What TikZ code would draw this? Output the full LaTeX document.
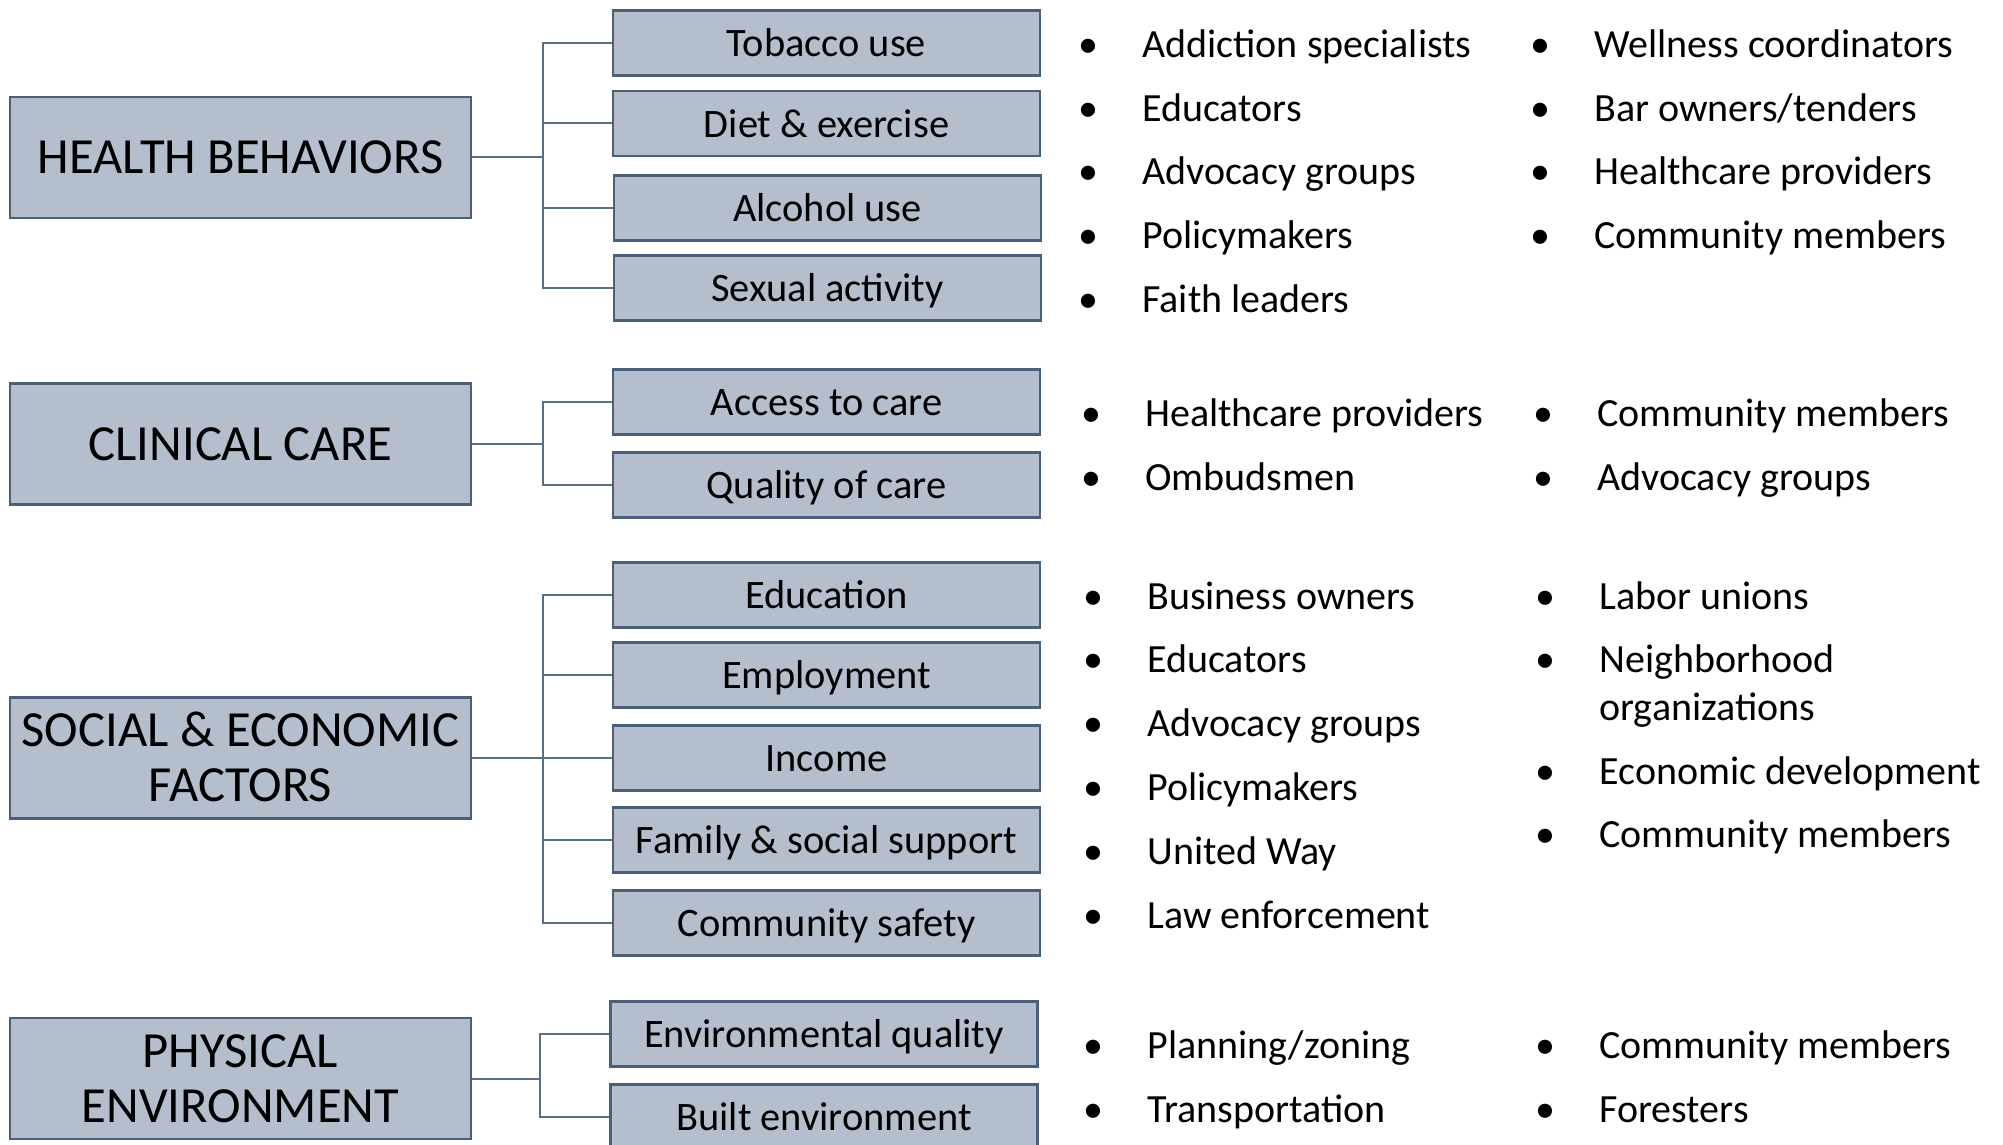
\documentclass[tikz,border=0pt]{standalone}
\usepackage{fontspec}
\setmainfont{Carlito}
\definecolor{boxfill}{RGB}{180,190,204}
\definecolor{bdr}{RGB}{74,96,120}
\definecolor{connc}{RGB}{90,110,134}
\newcommand\bitem[4]{\node[item] (#1) at (#2,#3) {\llap{\makebox[0pt]{•}\hspace{27pt}}#4};}
\begin{document}
\begin{tikzpicture}[x=0.5pt,y=-0.5pt,
  mainbox/.style={draw=bdr,fill=boxfill,line width=1.3pt,minimum width=230.5pt,minimum height=60.5pt,
    inner sep=0pt,font=\fontsize{25.3pt}{27.5pt}\selectfont,text height=16.3pt,text depth=0pt},
  mainbox2/.style={mainbox,text depth=27.5pt},
  subbox/.style={draw=bdr,fill=boxfill,line width=1.3pt,minimum width=213.5pt,minimum height=32.5pt,
    inner sep=0pt,font=\fontsize{20.2pt}{24pt}\selectfont,text height=13.6pt,text depth=0pt},
  item/.style={anchor=west,inner sep=0pt,font=\fontsize{20pt}{23.8pt}\selectfont,text height=12.9pt,text depth=0pt},
  item2/.style={anchor=base west,inner sep=0pt,font=\fontsize{20pt}{23.8pt}\selectfont},
  conn/.style={draw=connc,line width=1pt}]
\useasboundingbox (0,0) rectangle (2003,1145);
\fill[white] (0,0) rectangle (2003,1145);

% main boxes
\node[mainbox] (hb) at (240.5,157.5) {HEALTH BEHAVIORS};
\node[mainbox] (cc) at (240.5,444) {CLINICAL CARE};
\node[mainbox2] (se) at (240.5,758) {\begin{tabular}[t]{@{}c@{}}SOCIAL \& ECONOMIC\\FACTORS\end{tabular}};
\node[mainbox2] (pe) at (240.5,1078.5) {\begin{tabular}[t]{@{}c@{}}PHYSICAL\\ENVIRONMENT\end{tabular}};

% sub boxes
\node[subbox] (t1) at (826.5,43) {Tobacco use};
\node[subbox] (t2) at (826.5,123.5) {Diet \& exercise};
\node[subbox] (t3) at (827.5,208) {Alcohol use};
\node[subbox] (t4) at (827.5,288) {Sexual activity};
\node[subbox] (c1) at (826.5,402) {Access to care};
\node[subbox] (c2) at (826.5,485) {Quality of care};
\node[subbox] (s1) at (826.5,595) {Education};
\node[subbox] (s2) at (826.5,675) {Employment};
\node[subbox] (s3) at (826.5,758) {Income};
\node[subbox] (s4) at (826.5,840) {Family \& social support};
\node[subbox] (s5) at (826.5,923) {Community safety};
\node[subbox] (p1) at (824,1034) {Environmental quality};
\node[subbox] (p2) at (824,1117) {Built environment};

% connector spines
\coordinate (hx) at (543,0);
\coordinate (px) at (540,0);
\draw[conn] (hb.east) -- (hb.east -| hx);
\draw[conn] (t1.west) -- (t1.west -| hx) |- (t4.west);
\draw[conn] (t2.west) -- (t2.west -| hx);
\draw[conn] (t3.west) -- (t3.west -| hx);
\draw[conn] (cc.east) -- (cc.east -| hx);
\draw[conn] (c1.west) -- (c1.west -| hx) |- (c2.west);
\draw[conn] (se.east) -- (s3.west);
\draw[conn] (s1.west) -- (s1.west -| hx) |- (s5.west);
\draw[conn] (s2.west) -- (s2.west -| hx);
\draw[conn] (s4.west) -- (s4.west -| hx);
\draw[conn] (pe.east) -- (pe.east -| px);
\draw[conn] (p1.west) -- (p1.west -| px) |- (p2.west);

% bullets: health behaviors
\bitem{a1}{1142}{45}{Addiction specialists}
\bitem{a2}{1142}{109}{Educators}
\bitem{a3}{1142}{172}{Advocacy groups}
\bitem{a4}{1142}{236}{Policymakers}
\bitem{a5}{1142}{300}{Faith leaders}
\bitem{b1}{1594}{45}{Wellness coordinators}
\bitem{b2}{1594}{109}{Bar owners/tenders}
\bitem{b3}{1594}{172}{Healthcare providers}
\bitem{b4}{1594}{236}{Community members}
% clinical care
\bitem{d1}{1145}{414}{Healthcare providers}
\bitem{d2}{1145}{478}{Ombudsmen}
\bitem{e1}{1597}{414}{Community members}
\bitem{e2}{1597}{478}{Advocacy groups}
% social & economic
\bitem{f1}{1147}{597}{Business owners}
\bitem{f2}{1147}{660}{Educators}
\bitem{f3}{1147}{724}{Advocacy groups}
\bitem{f4}{1147}{788}{Policymakers}
\bitem{f5}{1147}{852}{United Way}
\bitem{f6}{1147}{916}{Law enforcement}
\bitem{g1}{1599}{597}{Labor unions}
\node[item2] (g2) at (1599,672.9) {\llap{\makebox[0pt]{•}\hspace{27pt}}\begin{tabular}[t]{@{}l@{}}Neighborhood\\organizations\end{tabular}};
\bitem{g3}{1599}{772}{Economic development}
\bitem{g4}{1599}{835}{Community members}
% physical environment
\bitem{h1}{1147}{1046}{Planning/zoning}
\bitem{h2}{1147}{1110}{Transportation}
\bitem{k1}{1599}{1046}{Community members}
\bitem{k2}{1599}{1110}{Foresters}
\end{tikzpicture}
\end{document}
